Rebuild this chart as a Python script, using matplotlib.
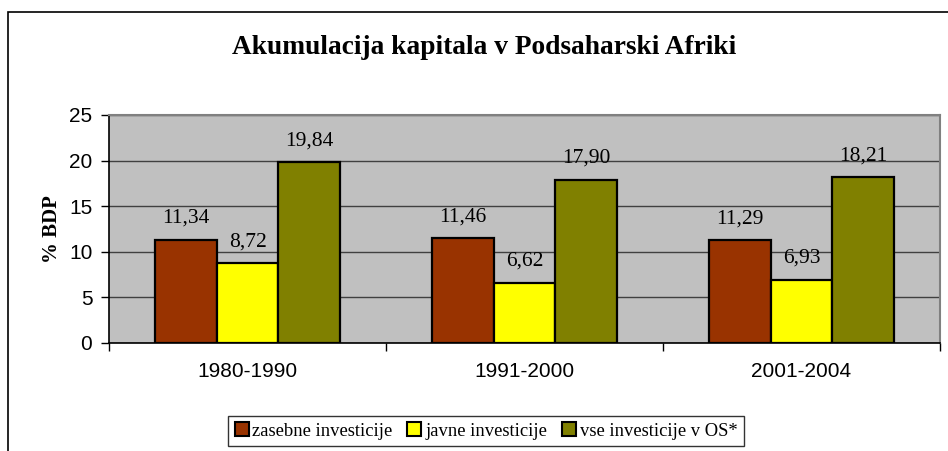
import matplotlib
matplotlib.use("Agg")
import matplotlib.pyplot as plt
from matplotlib.patches import Rectangle, Patch
import numpy as np

categories = ["1980-1990", "1991-2000", "2001-2004"]
series_names = ["zasebne investicije", "javne investicije", "vse investicije v OS*"]
zasebne = [11.34, 11.46, 11.29]
javne = [8.72, 6.62, 6.93]
vse = [19.84, 17.90, 18.21]
colors = ["#993300", "#FFFF00", "#808000"]
yticks = [0, 5, 10, 15, 20, 25]

W, H = 948, 451
fig = plt.figure(figsize=(W / 100, H / 100), dpi=100)
fig.patch.set_facecolor("white")

# outer chart frame (extends beyond right/bottom edges)
fig.add_artist(Rectangle((8 / W, -0.1), 1.2, 1 - 12 / H + 0.1, transform=fig.transFigure,
                         fill=False, edgecolor="black", linewidth=1.2))

left, right, top, bottom = 109, 940, 115, 343
ax = fig.add_axes([left / W, 1 - bottom / H, (right - left) / W, (bottom - top) / H])
ax.set_facecolor("#C0C0C0")

n = len(categories)
x = np.arange(n)
bw = 1 / 4.5
data = [zasebne, javne, vse]
for i, (vals, c) in enumerate(zip(data, colors)):
    pos = x + (i - 1) * bw
    ax.bar(pos, vals, width=bw, color=c, edgecolor="black", linewidth=1.6, zorder=3)
    for p, v in zip(pos, vals):
        ax.text(p, v + 1.3, f"{v:.2f}".replace(".", ","), ha="center", va="bottom",
                fontsize=15.5, family="Liberation Serif", zorder=4)

ax.set_xlim(-0.5, n - 0.5)
ax.set_ylim(0, 25)
ax.set_yticks(yticks)
ax.set_yticklabels([str(t) for t in yticks], family="Liberation Sans", fontsize=15)
ax.yaxis.grid(True, color="#404040", linewidth=1.0, zorder=1)
ax.set_axisbelow(True)

ax.set_xticks(x)
ax.set_xticklabels(categories, family="Liberation Sans", fontsize=15)
ax.tick_params(axis="x", length=0, pad=14)
ax.set_xticks(np.arange(n + 1) - 0.5, minor=True)
ax.tick_params(axis="x", which="minor", length=6, width=1, direction="out")
ax.tick_params(axis="y", length=6, width=1, direction="out", pad=6)

for s in ["top", "right"]:
    ax.spines[s].set_color("#808080")
    ax.spines[s].set_linewidth(1.5)
for s in ["left", "bottom"]:
    ax.spines[s].set_color("black")
    ax.spines[s].set_linewidth(1.2)

ax.set_ylabel("% BDP", family="Liberation Serif", fontweight="bold", fontsize=15, labelpad=5)

fig.text(484 / W, 1 - 47 / H, "Akumulacija kapitala v Podsaharski Afriki", ha="center", va="center",
         family="Liberation Serif", fontweight="bold", fontsize=19.7)

handles = [Patch(facecolor=c, edgecolor="black", linewidth=1.5) for c in colors]
leg = fig.legend(handles, series_names, loc="center", bbox_to_anchor=(486 / W, 1 - 431 / H),
                 ncol=3, frameon=True, fancybox=False, edgecolor="black",
                 prop={"family": "Liberation Serif", "size": 13.4},
                 handlelength=0.75, handleheight=0.75, handletextpad=0.2, columnspacing=0.8,
                 borderpad=0.35, borderaxespad=0)
leg.get_frame().set_linewidth(1.0)

fig.savefig("out.png", dpi=100)
